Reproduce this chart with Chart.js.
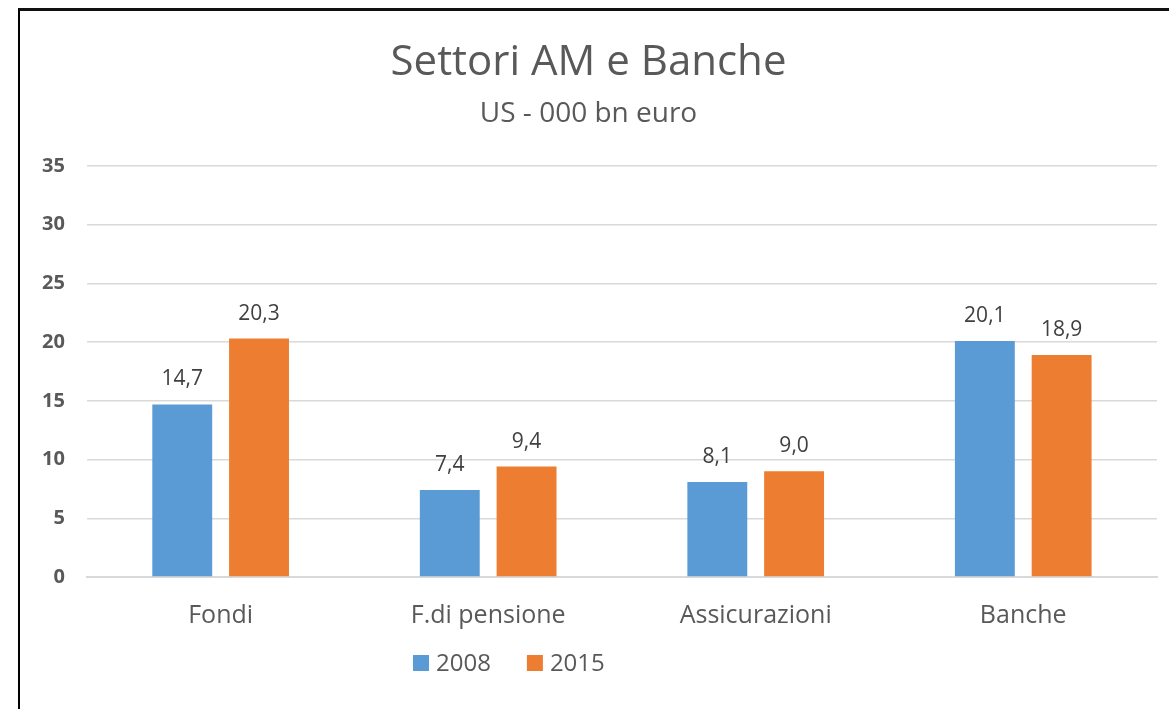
<!DOCTYPE html>
<html>
<head>
<meta charset="utf-8">
<script src="https://cdn.jsdelivr.net/npm/chart.js@4.4.1/dist/chart.umd.min.js"></script>
<style>
    html, body { margin: 0; padding: 0; background: #fff; }
    #frame {
        position: absolute;
        left: 18px;
        top: 8px;
        width: 1151px;
        height: 701px;
        border-left: 2px solid #000;
        border-top: 3px solid #111;
        box-sizing: border-box;
    }
    #wrap { position: absolute; left: 0; top: 0; width: 1149px; height: 698px; }
</style>
</head>
<body>
<div id="frame">
    <div id="wrap"><canvas id="chart"></canvas></div>
</div>
<script>
const categories = ["Fondi", "F.di pensione", "Assicurazioni", "Banche"];
const values2008 = [14.7, 7.4, 8.1, 20.1];
const values2015 = [20.3, 9.4, 9.0, 18.9];
const seriesLabels = ["2008", "2015"];
const seriesColors = ["#5B9BD5", "#ED7D31"];

const FONT = "'Open Sans', 'Noto Sans', sans-serif";

// numbers above each bar, with the Italian decimal comma
const barValues = {
    id: "barValues",
    afterDatasetsDraw(chart) {
        const ctx = chart.ctx;
        ctx.save();
        ctx.font = "21px " + FONT;
        ctx.fillStyle = "#404040";
        ctx.textAlign = "center";
        ctx.textBaseline = "middle";
        chart.data.datasets.forEach((ds, i) => {
            chart.getDatasetMeta(i).data.forEach((bar, j) => {
                const txt = ds.data[j].toFixed(1).replace(".", ",");
                ctx.fillText(txt, bar.x, bar.y - 25);
            });
        });
        ctx.restore();
    }
};

// Excel puts the legend a bit left of centre, so draw it by hand
const bottomLegend = {
    id: "bottomLegend",
    afterDraw(chart) {
        const ctx = chart.ctx;
        ctx.save();
        ctx.font = "24px " + FONT;
        ctx.textBaseline = "middle";
        let x = 393;
        const y = 652;
        chart.data.datasets.forEach(ds => {
            ctx.fillStyle = ds.backgroundColor;
            ctx.fillRect(x, y - 8, 16, 16);
            ctx.fillStyle = "#595959";
            ctx.fillText(ds.label, x + 23, y + 1);
            x += 23 + ctx.measureText(ds.label).width + 36;
        });
        ctx.restore();
    }
};

new Chart(document.getElementById("chart"), {
    type: "bar",
    data: {
        labels: categories,
        datasets: [
            { label: seriesLabels[0], data: values2008, backgroundColor: seriesColors[0] },
            { label: seriesLabels[1], data: values2015, backgroundColor: seriesColors[1] }
        ]
    },
    options: {
        responsive: true,
        maintainAspectRatio: false,
        animation: false,
        categoryPercentage: 0.574,
        barPercentage: 0.78,
        layout: { padding: { left: 0, right: 12, top: 27, bottom: 62 } },
        plugins: {
            tooltip: { enabled: false },
            legend: { display: false },
            title: {
                display: true,
                text: "Settori AM e Banche",
                color: "#595959",
                font: { family: FONT, size: 42, weight: "normal" },
                padding: { top: 0, bottom: 4 }
            },
            subtitle: {
                display: true,
                text: "US - 000 bn euro",
                color: "#595959",
                font: { family: FONT, size: 28, weight: "normal" },
                padding: { top: 5, bottom: 35 }
            }
        },
        scales: {
            x: {
                grid: { display: false },
                border: { color: "#D9D9D9", width: 2 },
                ticks: {
                    color: "#595959",
                    font: { family: FONT, size: 25 },
                    padding: 16
                }
            },
            y: {
                min: 0,
                max: 35,
                ticks: {
                    stepSize: 5,
                    color: "#595959",
                    font: { family: FONT, size: 20, weight: "bold" },
                    padding: 22
                },
                grid: { color: "#D9D9D9", lineWidth: 1.5, drawTicks: false },
                border: { display: false }
            }
        }
    },
    plugins: [barValues, bottomLegend]
});
</script>
</body>
</html>
